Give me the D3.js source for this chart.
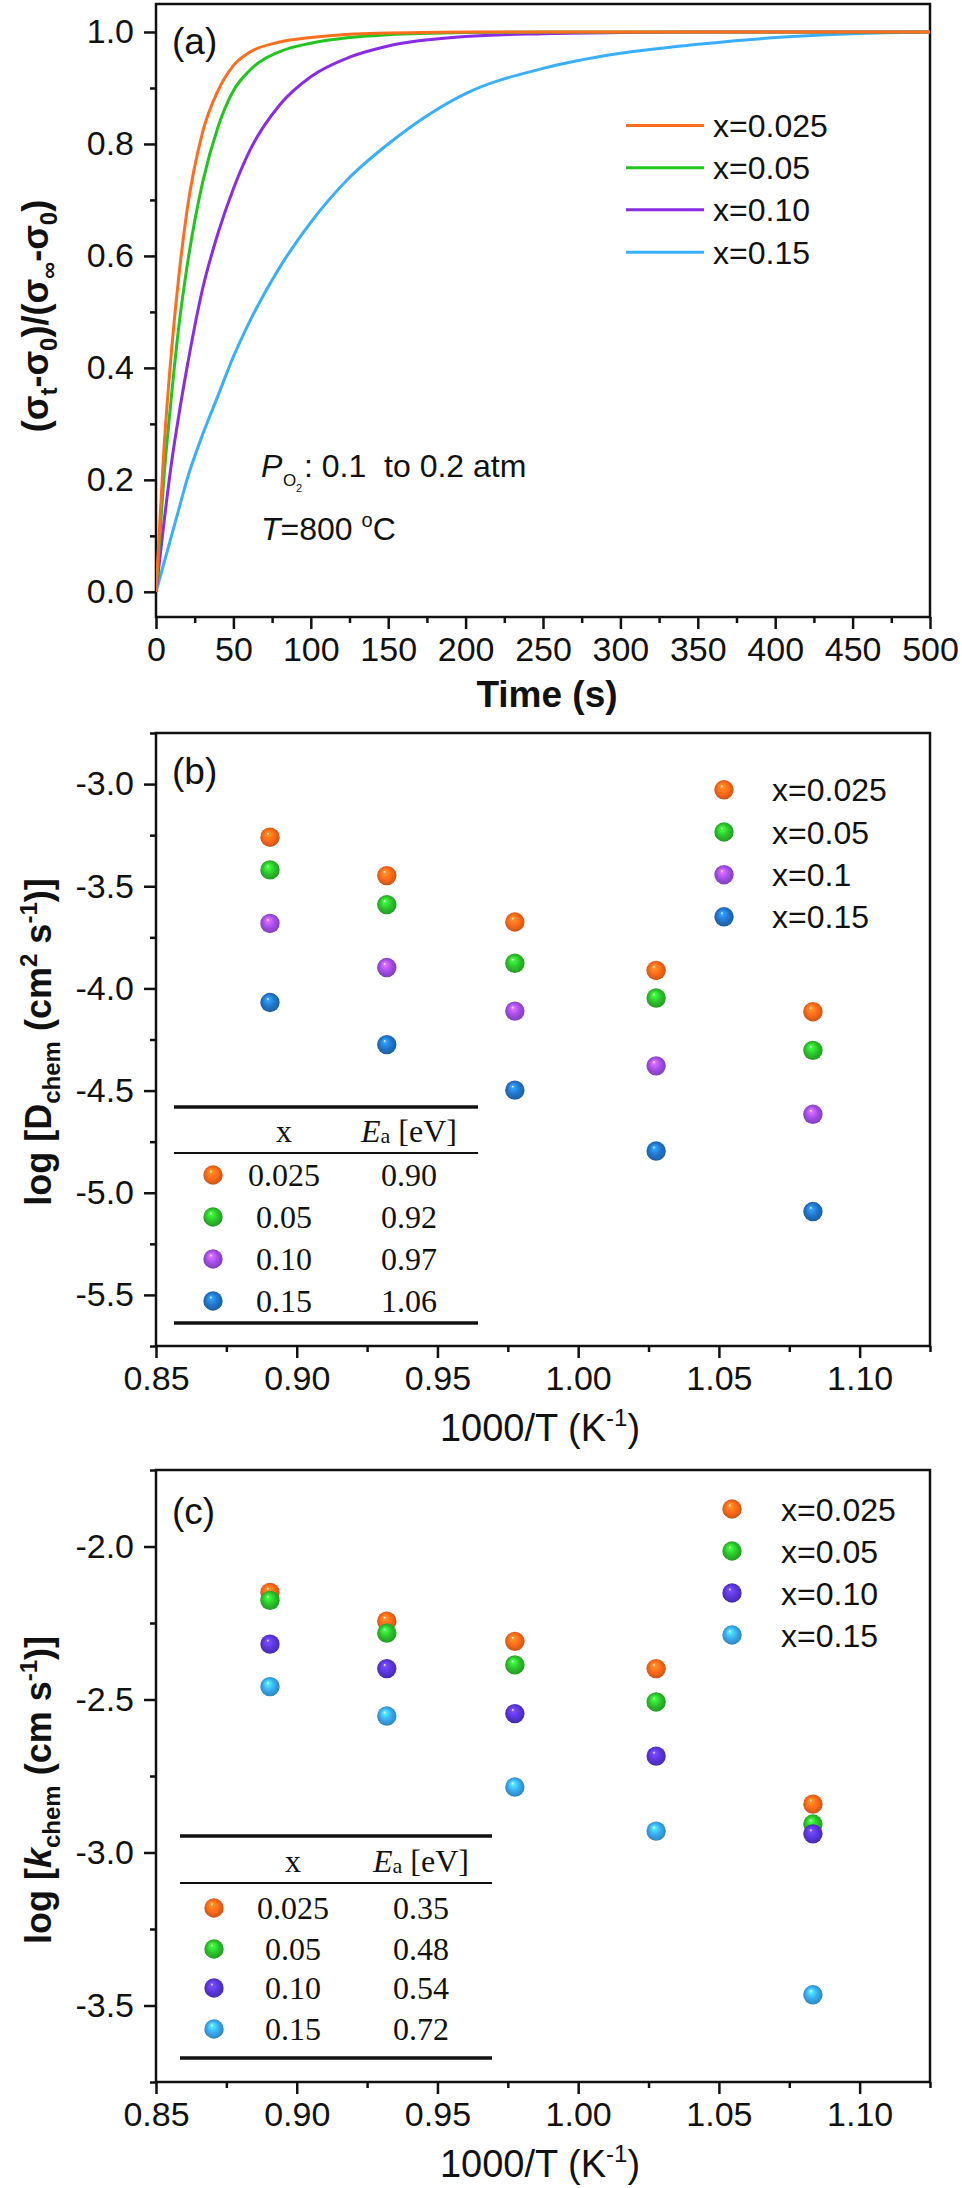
<!DOCTYPE html>
<html>
<head>
<meta charset="utf-8">
<script src="https://cdn.jsdelivr.net/npm/d3@7"></script>
<style>
  html, body { margin: 0; padding: 0; background: #fff; }
  svg text { font-family: "Liberation Sans", Arial, sans-serif; }
  .serif { font-family: "Liberation Serif", "Times New Roman", serif; }
</style>
</head>
<body>
<div id="chart"></div>
<script>
// ---------------- DATA ----------------
// Panel (a): normalized conductivity relaxation vs time
const timeS = [0, 5, 10, 15, 20, 30, 40, 50, 60, 80, 100, 125, 150, 200, 250, 300, 350, 400, 450, 500];
const relaxX025 = [0, 0.25, 0.43, 0.57, 0.68, 0.82, 0.895, 0.94, 0.963, 0.982, 0.99, 0.996, 0.998, 1.0, 1.0, 1.0, 1.0, 1.0, 1.0, 1.0];
const relaxX05  = [0, 0.20, 0.35, 0.48, 0.58, 0.73, 0.83, 0.895, 0.93, 0.965, 0.98, 0.99, 0.995, 0.999, 1.0, 1.0, 1.0, 1.0, 1.0, 1.0];
const relaxX10  = [0, 0.12, 0.23, 0.32, 0.40, 0.54, 0.64, 0.72, 0.785, 0.87, 0.92, 0.955, 0.975, 0.992, 0.997, 0.999, 1.0, 1.0, 1.0, 1.0];
const relaxX15  = [0, 0.05, 0.10, 0.15, 0.20, 0.28, 0.35, 0.42, 0.48, 0.58, 0.66, 0.74, 0.80, 0.89, 0.935, 0.962, 0.978, 0.99, 0.997, 1.0];
const legendA = ["x=0.025", "x=0.05", "x=0.10", "x=0.15"];
const colorsA = ["#ff6e1e", "#22c41e", "#8a2be6", "#3aaeff"];

// Panels (b), (c): x = 1000/T
const invT = [0.8905, 0.932, 0.9775, 1.0277, 1.0834];

// Panel (b): log D_chem
const logD025 = [-3.26, -3.448, -3.675, -3.912, -4.114];
const logD05  = [-3.42, -3.59, -3.877, -4.047, -4.303];
const logD10  = [-3.682, -3.898, -4.111, -4.379, -4.616];
const logD15  = [-4.069, -4.275, -4.498, -4.796, -5.092];
const legendB = ["x=0.025", "x=0.05", "x=0.1", "x=0.15"];
const colorsB = ["#ff6a1a", "#2cc42c", "#a34ee8", "#2276cc"];
const tableBx  = ["0.025", "0.05", "0.10", "0.15"];
const tableBEa = ["0.90", "0.92", "0.97", "1.06"];

// Panel (c): log k_chem
const logK025 = [-2.150, -2.244, -2.310, -2.399, -2.842];
const logK05  = [-2.176, -2.283, -2.387, -2.508, -2.907];
const logK10  = [-2.319, -2.399, -2.546, -2.685, -2.939];
const logK15  = [-2.458, -2.554, -2.786, -2.930, -3.465];
const legendC = ["x=0.025", "x=0.05", "x=0.10", "x=0.15"];
const colorsC = ["#ff6a1a", "#2cc42c", "#5a36e0", "#3aaaf0"];
const tableCx  = ["0.025", "0.05", "0.10", "0.15"];
const tableCEa = ["0.35", "0.48", "0.54", "0.72"];

// Tick values
const ticksA_x = [0, 50, 100, 150, 200, 250, 300, 350, 400, 450, 500];
const ticksA_y = [0.0, 0.2, 0.4, 0.6, 0.8, 1.0];
const ticksInvT = [0.85, 0.90, 0.95, 1.00, 1.05, 1.10];
const ticksB_y = [-5.5, -5.0, -4.5, -4.0, -3.5, -3.0];
const ticksC_y = [-3.5, -3.0, -2.5, -2.0];

// ---------------- DRAWING ----------------
const W = 962, H = 2188;
const svg = d3.select("#chart").append("svg")
  .attr("width", W).attr("height", H)
  .attr("viewBox", `0 0 ${W} ${H}`);
svg.append("rect").attr("width", W).attr("height", H).attr("fill", "#fff");
const defs = svg.append("defs");

let gradCount = 0;
function sphereGrad(color) {
  const id = "sg" + (gradCount++);
  const c = d3.color(color);
  const g = defs.append("radialGradient").attr("id", id)
    .attr("cx", "50%").attr("cy", "50%").attr("r", "55%")
    .attr("fx", "38%").attr("fy", "30%");
  g.append("stop").attr("offset", "0%").attr("stop-color", "#ffffff");
  g.append("stop").attr("offset", "14%").attr("stop-color", c.brighter(0.9).formatHex());
  g.append("stop").attr("offset", "55%").attr("stop-color", color);
  g.append("stop").attr("offset", "100%").attr("stop-color", c.darker(0.8).formatHex());
  return `url(#${id})`;
}

const TICK_FONT = 34;

function drawAxes(x, y, xTicks, xMinorStep, yTicks, yMinorStep, xFmt, yFmt) {
  const [x0, x1] = x.range();
  const [y0, y1] = y.range(); // y0 bottom, y1 top
  const gx = svg.append("g").attr("transform", `translate(0,${y0})`)
    .call(d3.axisBottom(x).tickValues(xTicks).tickFormat(xFmt).tickSize(12).tickSizeOuter(0).tickPadding(8));
  const xd = x.domain();
  const xMinor = d3.range(Math.ceil(xd[0] / xMinorStep - 1e-6), Math.floor(xd[1] / xMinorStep + 1e-6) + 1)
    .map(i => +(i * xMinorStep).toFixed(6))
    .filter(v => !xTicks.some(t => Math.abs(t - v) < 1e-6));
  const gxm = svg.append("g").attr("transform", `translate(0,${y0})`)
    .call(d3.axisBottom(x).tickValues(xMinor).tickFormat("").tickSize(6).tickSizeOuter(0));
  const gy = svg.append("g").attr("transform", `translate(${x0},0)`)
    .call(d3.axisLeft(y).tickValues(yTicks).tickFormat(yFmt).tickSize(12).tickSizeOuter(0).tickPadding(10));
  const yd = y.domain();
  const yMinor = d3.range(Math.ceil(yd[0] / yMinorStep - 1e-6), Math.floor(yd[1] / yMinorStep + 1e-6) + 1)
    .map(i => +(i * yMinorStep).toFixed(6))
    .filter(v => !yTicks.some(t => Math.abs(t - v) < 1e-6));
  const gym = svg.append("g").attr("transform", `translate(${x0},0)`)
    .call(d3.axisLeft(y).tickValues(yMinor).tickFormat("").tickSize(6).tickSizeOuter(0));
  [gx, gxm, gy, gym].forEach(g => {
    g.select(".domain").remove();
    g.selectAll("line").attr("stroke", "#111").attr("stroke-width", 2.5);
    g.selectAll("text").attr("font-size", TICK_FONT).attr("fill", "#111")
      .attr("font-family", "'Liberation Sans', Arial, sans-serif");
  });
  svg.append("rect").attr("x", x0).attr("y", y1)
    .attr("width", x1 - x0).attr("height", y0 - y1)
    .attr("fill", "none").attr("stroke", "#111").attr("stroke-width", 2.5);
}

const fmtMinus = d => d3.format(".1f")(d).replace("−", "-");

// ---------- Panel (a) ----------
{
  const x = d3.scaleLinear().domain([0, 500]).range([156, 930]);
  const y = d3.scaleLinear().domain([-0.045, 1.05]).range([617, 4]);
  drawAxes(x, y, ticksA_x, 25, ticksA_y, 0.1, d3.format("d"), d3.format(".1f"));

  defs.append("clipPath").attr("id", "clipA").append("rect")
    .attr("x", 156).attr("y", 4).attr("width", 774).attr("height", 613);

  const series = [relaxX025, relaxX05, relaxX10, relaxX15];
  const line = d3.line().x(d => x(d[0])).y(d => y(d[1])).curve(d3.curveMonotoneX);
  const gL = svg.append("g").attr("clip-path", "url(#clipA)");
  [3, 2, 1, 0].forEach(i => {
    gL.append("path").datum(timeS.map((t, k) => [t, series[i][k]]))
      .attr("d", line).attr("fill", "none").attr("stroke", colorsA[i]).attr("stroke-width", 3);
  });

  const legY = [125.4, 167.7, 209.7, 252.3];
  legendA.forEach((lab, i) => {
    svg.append("line").attr("x1", 626).attr("x2", 704).attr("y1", legY[i]).attr("y2", legY[i])
      .attr("stroke", colorsA[i]).attr("stroke-width", 3);
    svg.append("text").attr("x", 713).attr("y", legY[i] + 11.5).attr("font-size", 32)
      .attr("fill", "#111").text(lab);
  });

  svg.append("text").attr("x", 172).attr("y", 54).attr("font-size", 37).attr("fill", "#111").text("(a)");

  svg.append("text").attr("x", 261).attr("y", 477).attr("font-size", 32).attr("font-style", "italic").attr("fill", "#111").text("P");
  svg.append("text").attr("x", 283).attr("y", 486).attr("font-size", 17).attr("fill", "#111").text("O");
  svg.append("text").attr("x", 296).attr("y", 492).attr("font-size", 11).attr("fill", "#111").text("2");
  svg.append("text").attr("x", 304).attr("y", 477).attr("font-size", 32).attr("fill", "#111")
    .style("white-space", "pre").text(": 0.1  to 0.2 atm");
  const tT = svg.append("text").attr("x", 261).attr("y", 540).attr("font-size", 32).attr("fill", "#111");
  tT.append("tspan").attr("font-style", "italic").text("T");
  tT.append("tspan").text("=800 ");
  tT.append("tspan").attr("font-size", 20).attr("dy", -13).text("o");
  tT.append("tspan").attr("font-size", 32).attr("dy", 13).text("C");

  svg.append("text").attr("x", 547).attr("y", 707).attr("text-anchor", "middle")
    .attr("font-size", 37).attr("font-weight", "bold").attr("fill", "#111").text("Time (s)");
  const yt = svg.append("text").attr("transform", "translate(48,316) rotate(-90)")
    .attr("text-anchor", "middle").attr("font-size", 36).attr("font-weight", "bold").attr("fill", "#111");
  yt.append("tspan").text("(σ");
  yt.append("tspan").attr("font-size", 24).attr("dy", 9).text("t");
  yt.append("tspan").attr("font-size", 36).attr("dy", -9).text("-σ");
  yt.append("tspan").attr("font-size", 24).attr("dy", 9).text("0");
  yt.append("tspan").attr("font-size", 36).attr("dy", -9).text(")/(σ");
  yt.append("tspan").attr("font-size", 24).attr("dy", 9).text("∞");
  yt.append("tspan").attr("font-size", 36).attr("dy", -9).text("-σ");
  yt.append("tspan").attr("font-size", 24).attr("dy", 9).text("0");
  yt.append("tspan").attr("font-size", 36).attr("dy", -9).text(")");
}

function drawScatterPanel(opts) {
  const { x, y, yTicks, series, colors, legend, legX, legY, legTextX, table, label, labelY, yTitle, yTitleY, xTitleY } = opts;
  drawAxes(x, y, ticksInvT, 0.025, yTicks, 0.25, d3.format(".2f"), fmtMinus);
  const fills = colors.map(sphereGrad);
  const R = 9.7;
  series.forEach((s, i) => {
    svg.append("g").selectAll("circle").data(invT.map((v, k) => [v, s[k]])).join("circle")
      .attr("cx", d => x(d[0])).attr("cy", d => y(d[1])).attr("r", R).attr("fill", fills[i]);
  });
  legend.forEach((lab, i) => {
    svg.append("circle").attr("cx", legX).attr("cy", legY[i]).attr("r", R).attr("fill", fills[i]);
    svg.append("text").attr("x", legTextX).attr("y", legY[i] + 11.5).attr("font-size", 32).attr("fill", "#111").text(lab);
  });
  svg.append("text").attr("x", 172).attr("y", labelY).attr("font-size", 37).attr("fill", "#111").text(label);

  const t = table;
  const TF = 32;
  svg.append("line").attr("x1", t.x0).attr("x2", t.x1).attr("y1", t.top).attr("y2", t.top).attr("stroke", "#111").attr("stroke-width", 3.5);
  svg.append("line").attr("x1", t.x0).attr("x2", t.x1).attr("y1", t.mid).attr("y2", t.mid).attr("stroke", "#111").attr("stroke-width", 2);
  svg.append("line").attr("x1", t.x0).attr("x2", t.x1).attr("y1", t.bot).attr("y2", t.bot).attr("stroke", "#111").attr("stroke-width", 3.5);
  svg.append("text").attr("class", "serif").attr("x", t.cx).attr("y", t.head).attr("text-anchor", "middle")
    .attr("font-size", TF).attr("fill", "#111").text("x");
  const eh = svg.append("text").attr("class", "serif").attr("x", t.ce).attr("y", t.head).attr("text-anchor", "middle")
    .attr("font-size", TF).attr("fill", "#111");
  eh.append("tspan").attr("font-style", "italic").text("E");
  eh.append("tspan").attr("font-size", 22).attr("dy", 1).text("a");
  eh.append("tspan").attr("font-size", TF).attr("dy", -1).style("white-space", "pre").text(" [eV]");
  t.rows.forEach((ry, i) => {
    svg.append("circle").attr("cx", t.dot).attr("cy", ry).attr("r", R).attr("fill", fills[i]);
    svg.append("text").attr("class", "serif").attr("x", t.cx).attr("y", ry + 11).attr("text-anchor", "middle")
      .attr("font-size", TF).attr("fill", "#111").text(t.xs[i]);
    svg.append("text").attr("class", "serif").attr("x", t.ce).attr("y", ry + 11).attr("text-anchor", "middle")
      .attr("font-size", TF).attr("fill", "#111").text(t.eas[i]);
  });

  const xt = svg.append("text").attr("x", 540).attr("y", xTitleY).attr("text-anchor", "middle")
    .attr("font-size", 38).attr("fill", "#111");
  xt.append("tspan").text("1000/T (K");
  xt.append("tspan").attr("font-size", 24).attr("dy", -15).text("-1");
  xt.append("tspan").attr("font-size", 38).attr("dy", 15).text(")");

  const ytt = svg.append("text").attr("transform", `translate(51,${yTitleY}) rotate(-90)`)
    .attr("text-anchor", "middle").attr("font-size", 36).attr("font-weight", "bold").attr("fill", "#111");
  yTitle(ytt);
}

// ---------- Panel (b) ----------
drawScatterPanel({
  x: d3.scaleLinear().domain([0.85, 1.125]).range([156, 930]),
  y: d3.scaleLinear().domain([-5.75, -2.75]).range([1346, 733]),
  yTicks: ticksB_y,
  series: [logD025, logD05, logD10, logD15],
  colors: colorsB,
  legend: legendB,
  legX: 724, legY: [789.8, 832, 874.7, 916.8], legTextX: 772,
  label: "(b)", labelY: 784,
  xTitleY: 1441, yTitleY: 1042,
  table: { x0: 174, x1: 478, top: 1107, mid: 1153, bot: 1323, head: 1142, cx: 284, ce: 409, dot: 213,
           rows: [1175, 1217, 1259, 1301], xs: tableBx, eas: tableBEa },
  yTitle: t => {
    t.append("tspan").text("log [D");
    t.append("tspan").attr("font-size", 24).attr("dy", 9).text("chem");
    t.append("tspan").attr("font-size", 36).attr("dy", -9).style("white-space", "pre").text(" (cm");
    t.append("tspan").attr("font-size", 24).attr("dy", -14).text("2");
    t.append("tspan").attr("font-size", 36).attr("dy", 14).style("white-space", "pre").text(" s");
    t.append("tspan").attr("font-size", 24).attr("dy", -14).text("-1");
    t.append("tspan").attr("font-size", 36).attr("dy", 14).text(")]");
  }
});

// ---------- Panel (c) ----------
drawScatterPanel({
  x: d3.scaleLinear().domain([0.85, 1.125]).range([156, 930]),
  y: d3.scaleLinear().domain([-3.75, -1.75]).range([2082, 1470]),
  yTicks: ticksC_y,
  series: [logK025, logK05, logK10, logK15],
  colors: colorsC,
  legend: legendC,
  legX: 732, legY: [1509, 1551, 1593, 1635], legTextX: 781,
  label: "(c)", labelY: 1524,
  xTitleY: 2177, yTitleY: 1790,
  table: { x0: 180, x1: 492, top: 1836, mid: 1883, bot: 2058, head: 1872, cx: 293, ce: 421, dot: 214,
           rows: [1908, 1949, 1988, 2029], xs: tableCx, eas: tableCEa },
  yTitle: t => {
    t.append("tspan").text("log [");
    t.append("tspan").attr("font-style", "italic").text("k");
    t.append("tspan").attr("font-size", 24).attr("dy", 9).text("chem");
    t.append("tspan").attr("font-size", 36).attr("dy", -9).style("white-space", "pre").text(" (cm s");
    t.append("tspan").attr("font-size", 24).attr("dy", -14).text("-1");
    t.append("tspan").attr("font-size", 36).attr("dy", 14).text(")]");
  }
});
</script>
</body>
</html>
